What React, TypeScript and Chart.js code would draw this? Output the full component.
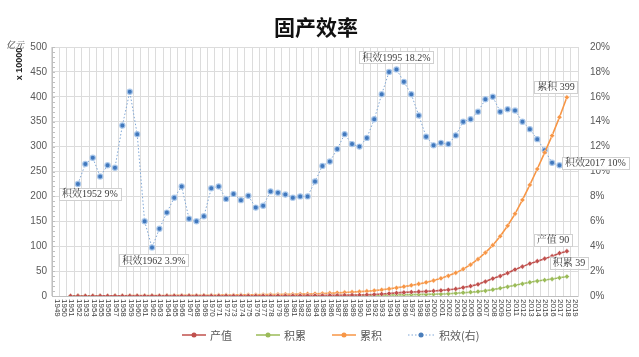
import React, { useEffect, useRef } from "react";
import { Chart, registerables } from "chart.js";
Chart.register(...registerables);

const years = [
  "1949","1950","1951","1952","1953","1954","1955","1956","1957","1958",
  "1959","1960","1961","1962","1963","1964","1965","1966","1967","1968",
  "1969","1970","1971","1972","1973","1974","1975","1976","1977","1978",
  "1979","1980","1981","1982","1983","1984","1985","1986","1987","1988",
  "1989","1990","1991","1992","1993","1994","1995","1996","1997","1998",
  "1999","2000","2001","2002","2003","2004","2005","2006","2007","2008",
  "2009","2010","2011","2012","2013","2014","2015","2016","2017","2018","2019",
];

// 产值 (x10000 亿元)
const output = [
  null, null, 0.1, 0.12, 0.14, 0.15, 0.16, 0.18, 0.19, 0.22,
  0.24, 0.25, 0.2, 0.19, 0.2, 0.23, 0.27, 0.3, 0.28, 0.27,
  0.3, 0.35, 0.38, 0.4, 0.42, 0.43, 0.45, 0.45, 0.48, 0.52,
  0.56, 0.6, 0.65, 0.7, 0.78, 0.9, 1.05, 1.2, 1.4, 1.65,
  1.85, 2.0, 2.4, 3.0, 3.9, 5.0, 6.2, 7.2, 8.0, 8.6,
  9.2, 10.1, 11.2, 12.4, 14.2, 16.9, 19.8, 23.5, 29, 35,
  40, 46, 53, 59, 65, 70, 75, 80, 86, 90, null,
];

// 积累
const accumulation = [
  null, null, 0.05, 0.06, 0.07, 0.08, 0.09, 0.11, 0.12, 0.15,
  0.18, 0.19, 0.1, 0.08, 0.09, 0.1, 0.12, 0.15, 0.12, 0.11,
  0.13, 0.17, 0.18, 0.18, 0.19, 0.2, 0.22, 0.21, 0.22, 0.25,
  0.27, 0.28, 0.28, 0.3, 0.34, 0.4, 0.5, 0.56, 0.65, 0.78,
  0.8, 0.84, 0.96, 1.22, 1.6, 1.97, 2.34, 2.62, 2.8, 3.0,
  3.2, 3.5, 3.9, 4.5, 5.5, 6.6, 7.6, 8.8, 10.4, 12.8,
  15.6, 18.5, 21.5, 24.5, 27.5, 30, 32, 34, 36.5, 39, null,
];

// 累积
const cumulative = [
  null, null, 0.2, 0.25, 0.3, 0.35, 0.4, 0.5, 0.55, 0.65,
  0.8, 0.9, 0.95, 1.0, 1.05, 1.1, 1.2, 1.3, 1.35, 1.4,
  1.5, 1.6, 1.75, 1.9, 2.0, 2.2, 2.4, 2.55, 2.7, 2.9,
  3.1, 3.3, 3.5, 3.8, 4.1, 4.5, 5.0, 5.6, 6.3, 7.1,
  7.9, 8.7, 9.6, 10.8, 12.4, 14.3, 16.4, 18.8, 21.4, 24.2,
  27.4, 31, 35.5, 40.5, 46.5, 54, 63, 74, 87, 102,
  120, 141, 165, 193, 223, 255, 288, 322, 359, 399, null,
];

// 积效(右) %
const efficiency = [
  null, null, null, 9.0, 10.6, 11.1, 9.6, 10.5, 10.3, 13.7,
  16.4, 13.0, 6.0, 3.9, 5.4, 6.7, 7.9, 8.8, 6.2, 6.0,
  6.4, 8.65, 8.8, 7.8, 8.2, 7.7, 8.05, 7.1, 7.25, 8.4,
  8.3, 8.15, 7.9, 8.0, 8.0, 9.2, 10.45, 10.8, 11.8, 13.0,
  12.2, 12.0, 12.7, 14.2, 16.2, 18.0, 18.2, 17.2, 16.2, 14.5,
  12.8, 12.1, 12.3, 12.2, 12.9, 14.0, 14.2, 14.8, 15.8, 16.0,
  14.8, 15.0, 14.9, 14.0, 13.4, 12.6, 11.7, 10.7, 10.5, null, null,
];

const leftTicks = [0, 500, 50];
const rightTicks = [0, 20, 2];

const seriesNames = ["产值", "积累", "累积", "积效(右)"];
const seriesColors = ["#c0504d", "#9bbb59", "#f79646", "#4a7ebb"];

const title = "固产效率";
const axisUnit = "亿元";
const axisScale = "x 10000";

// annotation texts: [datasetIndex, year, text]
const callouts: [number, string, string][] = [
  [3, "1952", "积效1952 9%"],
  [3, "1962", "积效1962 3.9%"],
  [3, "1995", "积效1995 18.2%"],
  [3, "2017", "积效2017 10%"],
  [2, "2018", "累积 399"],
  [0, "2018", "产值 90"],
  [1, "2018", "积累 39"],
];
const calloutOffsets = [
  [12, 10], [2, 13], [0, -12], [36, -2], [-11, -10], [-14, -11], [2, -14],
];

const SERIF = "'Liberation Serif', 'Noto Serif CJK SC', 'Noto Sans CJK SC', serif";
const SANS = "'Liberation Sans', Arial, sans-serif";

const overlay = {
  id: "overlay",
  afterDraw(chart: any) {
    const ctx = chart.ctx;
    const x = chart.scales.x;
    const y = chart.scales.y;
    const area = chart.chartArea;
    ctx.save();

    // title
    ctx.fillStyle = "#111";
    ctx.font = "bold 21px 'Noto Sans CJK SC', sans-serif";
    ctx.textAlign = "center";
    ctx.textBaseline = "middle";
    ctx.fillText(title, 316, 27);

    // axis unit
    ctx.fillStyle = "#333";
    ctx.font = "italic 9px " + SERIF;
    ctx.textAlign = "center";
    ctx.fillText(axisUnit, 15, 46);
    ctx.save();
    ctx.translate(20, 64);
    ctx.rotate(-Math.PI / 2);
    ctx.font = "bold 9px " + SANS;
    ctx.fillStyle = "#222";
    ctx.fillText(axisScale, 0, 0);
    ctx.restore();

    // minor ticks on left axis
    ctx.strokeStyle = "#bfbfbf";
    ctx.lineWidth = 1;
    for (let v = 0; v <= 500; v += 10) {
      const py = Math.round(y.getPixelForValue(v)) + 0.5;
      ctx.beginPath();
      ctx.moveTo(area.left, py);
      ctx.lineTo(area.left + 3, py);
      ctx.stroke();
    }

    // x labels rotated clockwise
    ctx.fillStyle = "#404040";
    ctx.font = "8px " + SANS;
    ctx.textAlign = "left";
    ctx.textBaseline = "middle";
    years.forEach((lab, i) => {
      const px = x.getPixelForValue(i);
      ctx.save();
      ctx.translate(px + 1, area.bottom + 3);
      ctx.rotate(Math.PI / 2);
      ctx.fillText(lab, 0, 0);
      ctx.restore();
    });

    // callouts
    ctx.font = "10px " + SERIF;
    ctx.textAlign = "center";
    ctx.textBaseline = "middle";
    callouts.forEach(([ds, yr, text], k) => {
      const meta = chart.getDatasetMeta(ds);
      const idx = years.indexOf(yr);
      const pt = meta.data[idx];
      if (!pt) return;
      const cx = pt.x + calloutOffsets[k][0];
      const cy = pt.y + calloutOffsets[k][1];
      const w = ctx.measureText(text).width + 6;
      const h = 12;
      ctx.fillStyle = "rgba(255,255,255,0.95)";
      ctx.fillRect(cx - w / 2, cy - h / 2, w, h);
      ctx.strokeStyle = "#d0d0d0";
      ctx.strokeRect(Math.round(cx - w / 2) + 0.5, Math.round(cy - h / 2) + 0.5, Math.round(w), h);
      ctx.fillStyle = "#404040";
      ctx.fillText(text, cx, cy + 0.5);
    });

    // legend
    const legendY = 335;
    const items = [
      [182, 206, 210],
      [256, 280, 284],
      [332, 356, 360],
      [408, 434, 439],
    ];
    ctx.font = "11px 'Noto Sans CJK SC', sans-serif";
    ctx.textAlign = "left";
    items.forEach(([a, b, t], i) => {
      ctx.strokeStyle = i === 3 ? "#7ea6d6" : seriesColors[i];
      ctx.lineWidth = i === 3 ? 1 : 1.5;
      ctx.setLineDash(i === 3 ? [1.5, 2] : []);
      ctx.beginPath();
      ctx.moveTo(a, legendY);
      ctx.lineTo(b, legendY);
      ctx.stroke();
      ctx.setLineDash([]);
      ctx.fillStyle = seriesColors[i];
      ctx.beginPath();
      ctx.arc((a + b) / 2, legendY, 2.5, 0, Math.PI * 2);
      ctx.fill();
      ctx.fillStyle = "#595959";
      ctx.fillText(seriesNames[i], t, legendY + 1);
    });

    ctx.restore();
  },
};

export default function App() {
  const ref = useRef<HTMLCanvasElement>(null);
  useEffect(() => {
    document.body.style.margin = "0";
    const canvas = ref.current!;
    const lineDs = (i: number, data: any[]) => ({
      label: seriesNames[i],
      data,
      yAxisID: "y",
      borderColor: seriesColors[i],
      backgroundColor: seriesColors[i],
      borderWidth: 1.6,
      pointStyle: "rectRot",
      pointRadius: 2.6,
      pointBorderWidth: 0.8,
      pointBorderColor: "rgba(255,255,255,0.6)",
      pointBackgroundColor: seriesColors[i],
      tension: 0,
      spanGaps: false,
    });
    const chart = new Chart(canvas, {
      type: "line",
      data: {
        labels: years,
        datasets: [
          lineDs(0, output),
          lineDs(1, accumulation),
          lineDs(2, cumulative),
          {
            label: seriesNames[3],
            data: efficiency,
            yAxisID: "y2",
            borderColor: "#7ea6d6",
            borderWidth: 1,
            borderDash: [1.5, 2],
            pointStyle: "circle",
            pointRadius: 2.6,
            pointBorderWidth: 1.2,
            pointBorderColor: "rgba(170,200,235,0.9)",
            pointBackgroundColor: "#4178bd",
            tension: 0,
          },
        ],
      },
      options: {
        responsive: false,
        animation: false,
        layout: { padding: { top: 47, left: 0, right: 0, bottom: 0 } },
        plugins: { legend: { display: false }, tooltip: { enabled: false }, title: { display: false } },
        scales: {
          x: {
            type: "category",
            offset: true,
            grid: { offset: true, color: "#dcdcdc", drawTicks: false },
            border: { color: "#bfbfbf" },
            ticks: { display: false },
            afterFit: (s: any) => { s.height = 61; },
          },
          y: {
            position: "left",
            min: leftTicks[0],
            max: leftTicks[1],
            ticks: { stepSize: leftTicks[2], color: "#595959", font: { size: 10, family: SANS }, padding: 5 },
            grid: { color: "#dcdcdc", drawTicks: false },
            border: { color: "#bfbfbf" },
            afterFit: (s: any) => { s.width = 52; },
          },
          y2: {
            position: "right",
            min: rightTicks[0],
            max: rightTicks[1],
            ticks: {
              stepSize: rightTicks[2],
              color: "#595959",
              font: { size: 10, family: SANS },
              padding: 12,
              callback: (v: any) => v + "%",
            },
            grid: { display: false, drawTicks: false },
            border: { color: "#dcdcdc" },
            afterFit: (s: any) => { s.width = 61; },
          },
        },
      },
      plugins: [overlay],
    });
    return () => chart.destroy();
  }, []);
  return (
    <canvas
      ref={ref}
      width={639}
      height={357}
      style={{ display: "block", width: 639, height: 357, background: "#fff" }}
    />
  );
}
